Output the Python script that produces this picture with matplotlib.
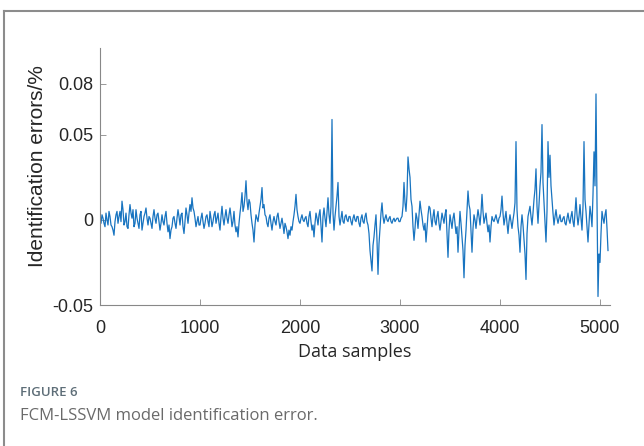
import numpy as np
import matplotlib
matplotlib.use("Agg")
import matplotlib.pyplot as plt
from matplotlib.lines import Line2D

plt.rcParams["font.family"] = ["Liberation Sans", "DejaVu Sans"]

# identification error, every 10 samples (units of 1e-3)
step = 10
err_milli = [
    # 0 - 490
    0, -2, 3, 1, -2, -4, 4, 0, -3, 5, 2, -3, -4, -6, -9, -1, 3, 5, -2, 2,
    5, -1, 11, 6, -3, -1, 4, -4, -5, 3, 9, 4, 1, 6, -4, -2, 6, 1, -2, -5,
    3, 5, -6, -2, 2, 4, 7, 1, -3, 2,
    # 500 - 990
    1, -2, -5, 2, 6, 1, -2, 3, 4, -1, -6, -2, 3, -1, -3, 2, 5, -2, -7, -3,
    -11, -6, -4, 1, 2, -2, -5, 1, 6, 2, -3, 3, 4, -4, -8, -1, 7, 3, -2, 4,
    9, 5, 13, 7, 5, 1, -4, -1, 2, -3,
    # 1000 - 1490
    -3, 1, 4, -1, -5, -2, 2, 3, -1, -4, 5, 1, -4, -1, 3, 5, -2, 1, 4, -2,
    -6, 2, 8, 1, -3, 2, 6, 1, -2, 3, 7, 2, -4, -1, 5, -3, -7, -4, -10, -2,
    4, 9, 16, 5, 8, 14, 23, 11, 6, 12,
    # 1500 - 1990
    10, 3, -2, -6, -13, -3, 3, 1, -1, 4, 8, 12, 19, 7, 9, 3, 2, -2, -4, 1,
    3, -2, -6, -1, 2, -1, -3, 2, 4, -1, -5, -2, 1, -3, -8, -2, -4, -7, -11, -6,
    -9, -4, -6, -1, 3, 8, 15, 6, 2, -1,
    # 2000 - 2490
    -2, 1, 3, 0, -1, 1, 2, -2, -4, 2, 5, -1, -6, -3, -10, -2, 4, 1, -3, 3,
    6, -4, -13, 2, 7, 1, -4, 5, 13, 3, -2, 8, 59, 4, -6, 2, 8, 14, 22, 2,
    -3, 1, 5, -1, -2, 2, 3, 0, -1, 2,
    # 2500 - 2990
    2, -1, -3, 1, 3, 0, -1, 2, 2, -2, -4, 1, 3, -1, -2, 2, 4, -1, -3, -8,
    -18, -24, -30, -15, -10, -3, 3, -12, -32, -14, -5, 4, 10, 2, -2, 1, 3, 0, -1, 1,
    2, -1, -2, 0, 1, -1, 0, 1, 1, -1,
    # 3000 - 3490
    -1, 1, 2, 8, 22, 10, 5, 15, 37, 30, 25, 12, 8, -4, -12, -5, 4, 1, -5, 3,
    11, 6, 2, -3, -6, -2, -13, -5, 3, 8, 7, 1, -4, 2, 6, -1, -3, 2, 5, -2,
    -6, -1, 4, 1, -2, 3, 6, -8, -22, -6,
    # 3500 - 3990
    3, -1, -5, 1, 4, -2, -8, -4, -19, -6, 5, -2, -10, -18, -34, -15, -6, 5, 17, 9,
    6, -7, -19, -5, 3, 0, -5, 1, 6, 2, -3, 4, 15, 5, -2, 1, 4, -2, -7, -3,
    -13, -4, 2, 0, -1, 1, 3, 0, -2, 1,
    # 4000 - 4490
    2, 6, 14, 4, -3, 1, 5, -2, -8, -1, 3, -1, -5, 0, 4, 10, 46, 6, -4, -9,
    -19, -4, 3, -3, -12, -20, -35, -8, 2, 5, 8, 2, -3, 4, 12, 18, 30, 8, -2, 9,
    20, 28, 56, 22, 10, -2, -13, 5, 46, 25,
    # 4500 - 4990
    38, 20, 12, 4, -3, 2, 6, 1, -2, 1, 3, -1, -1, 1, 2, -2, -3, 1, 4, 0,
    -2, 2, 5, -1, -4, 4, 13, 3, -3, 2, 9, 1, -6, 8, 46, 12, 5, -4, -13, -2,
    8, 3, -4, 15, 40, 20, 74, 10, -45, -20,
    # 5000 - 5080
    -25, -8, 5, 1, -2, 3, 6, -5, -18,
]

samples = np.arange(len(err_milli)) * step
errors = np.array(err_milli) / 1000.0

y_ticks = [-0.05, 0, 0.05, 0.08]
y_labels = ["-0.05", "0", "0.05", "0.08"]
x_ticks = [0, 1000, 2000, 3000, 4000, 5000]

fig = plt.figure(figsize=(6.44, 4.46), dpi=100)

# frame of the figure box (top and left edges only visible)
fig.add_artist(Line2D([4 / 644, 4 / 644], [0, 1 - 11 / 446], color="#8c8c8c", lw=1.5))
fig.add_artist(Line2D([4 / 644, 1], [1 - 11 / 446, 1 - 11 / 446], color="#8c8c8c", lw=1.5))

ax = fig.add_axes([100 / 644, 1 - 305 / 446, 510 / 644, 257 / 446])
ax.plot(samples, errors, color="#1874c0", lw=0.9)

ax.set_xlim(0, 5100)
ax.set_ylim(-0.05, 0.101)
ax.set_xticks(x_ticks)
ax.set_yticks(y_ticks)
ax.set_yticklabels(y_labels)
for s in ["top", "right"]:
    ax.spines[s].set_visible(False)
for s in ["left", "bottom"]:
    ax.spines[s].set_color("#888888")
    ax.spines[s].set_linewidth(0.8)
ax.tick_params(direction="in", length=4, width=0.6, color="#888888", labelsize=13,
               labelcolor="#262626")
ax.tick_params(axis="x", pad=11)
ax.tick_params(axis="y", pad=5)

ax.set_xlabel("Data samples", fontsize=13, family="Open Sans", color="#262626", labelpad=4)
ax.set_ylabel("Identification errors/%", fontsize=15, color="#262626")
ax.yaxis.set_label_coords(-0.103, 0.54)

fig.text(20 / 644, 1 - 392 / 446, "FIGURE 6", fontsize=9.5, family="Open Sans", weight="semibold",
         color="#5e6e78", va="center", ha="left")
fig.text(20 / 644, 1 - 416 / 446, "FCM-LSSVM model identification error.", fontsize=12,
         family="Open Sans", color="#6a6a6a", va="center", ha="left")

fig.savefig("out.png", dpi=100)
